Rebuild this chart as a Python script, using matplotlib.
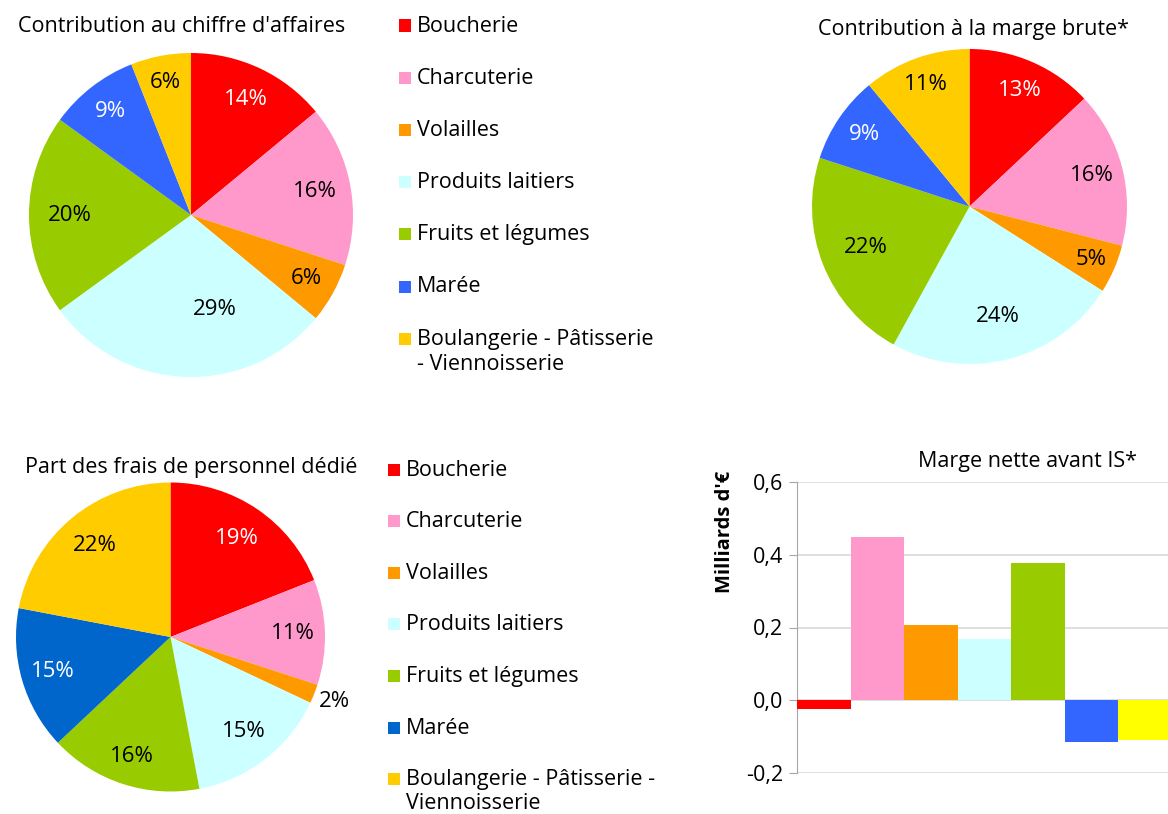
import matplotlib
matplotlib.use("Agg")
import matplotlib.pyplot as plt
from matplotlib.patches import Rectangle
import numpy as np

plt.rcParams['font.family'] = ['Open Sans', 'DejaVu Sans']

# data
rayons = ['Boucherie', 'Charcuterie', 'Volailles', 'Produits laitiers',
          'Fruits et légumes', 'Marée', 'Boulangerie - Pâtisserie - Viennoisserie']
ca = [14, 16, 6, 29, 20, 9, 6]
marge_brute = [13, 16, 5, 24, 22, 9, 11]
frais_perso = [19, 11, 2, 15, 16, 15, 22]
marge_nette = [-0.024, 0.448, 0.206, 0.168, 0.377, -0.115, -0.109]
yticks = [-0.2, 0.0, 0.2, 0.4, 0.6]
ytick_labels = ['-0,2', '0,0', '0,2', '0,4', '0,6']

colors = ['#FF0000', '#FF99CC', '#FF9900', '#CCFFFF', '#99CC00', '#3366FF', '#FFCC00']
colors_frais = ['#FF0000', '#FF99CC', '#FF9900', '#CCFFFF', '#99CC00', '#0066CC', '#FFCC00']
colors_bar = ['#FF0000', '#FF99CC', '#FF9900', '#CCFFFF', '#99CC00', '#3366FF', '#FFFF00']

W, H = 1168, 814
fig = plt.figure(figsize=(W / 100, H / 100), dpi=100)
FS = 15.5


def px_axes(x0, y0, x1, y1):
    # pixel box (top-left origin) -> figure axes
    return fig.add_axes([x0 / W, 1 - y1 / H, (x1 - x0) / W, (y1 - y0) / H])


def draw_pie(ax, vals, cols, dist, rot=None):
    wedges, texts, autotexts = ax.pie(vals, colors=cols, startangle=90, counterclock=False,
                                      autopct='%d%%', textprops={'fontsize': 16})
    for i, t in enumerate(autotexts):
        w = wedges[i]
        ang = np.deg2rad((w.theta1 + w.theta2) / 2 + (rot[i] if rot else 0))
        t.set_position((dist[i] * np.cos(ang), dist[i] * np.sin(ang)))
        if cols[i] in ('#FF0000', '#3366FF', '#0066CC'):
            t.set_color('white')
    ax.set_xlim(-1, 1)
    ax.set_ylim(-1, 1)
    return wedges


def draw_legend(labels, cols, x_sq, y_base, pitch=52.2, gap=25):
    # squares + labels, square aligned to the first text line
    for i, (lab, c) in enumerate(zip(labels, cols)):
        yb = y_base + i * pitch
        fig.patches.append(Rectangle((x_sq / W, 1 - yb / H), 12 / W, 12 / H,
                                     facecolor=c, transform=fig.transFigure))
        for k, line in enumerate(lab.split('\n')):
            fig.text((x_sq + 18) / W, 1 - (yb + k * gap) / H, line, ha='left',
                     va='baseline', fontsize=FS)


# top-left pie
ax1 = px_axes(29, 53, 353, 377)
draw_pie(ax1, ca, colors, [0.79, 0.78, 0.81, 0.6, 0.75, 0.81, 0.83],
         rot=[0, 0, 0, 16, 0, 0, 0])
fig.text(182 / W, 1 - 27 / H, "Contribution au chiffre d'affaires", ha='center', va='center', fontsize=FS)

# top-right pie
ax2 = px_axes(812, 49, 1127, 364)
draw_pie(ax2, marge_brute, colors, [0.8, 0.8, 0.84, 0.72, 0.71, 0.81, 0.82])
fig.text(973 / W, 1 - 29 / H, "Contribution à la marge brute*", ha='center', va='center', fontsize=FS)

# bottom-left pie
ax3 = px_axes(16, 482, 325, 792)
draw_pie(ax3, frais_perso, colors_frais, [0.77, 0.79, 1.14, 0.77, 0.81, 0.79, 0.77])
fig.text(191 / W, 1 - 467 / H, "Part des frais de personnel dédié", ha='center', va='center', fontsize=FS)

# legends
labels_top = rayons[:6] + ['Boulangerie - Pâtisserie\n- Viennoisserie']
labels_bot = rayons[:6] + ['Boulangerie - Pâtisserie -\nViennoisserie']
draw_legend(labels_top, colors, 399, 31.5)
draw_legend(labels_bot, colors_frais, 388, 475.5, pitch=51.6, gap=23.5)

# bar chart
ax4 = px_axes(797, 482, 1168, 773)
ax4.bar(range(len(marge_nette)), marge_nette, width=1.0, color=colors_bar, zorder=3)
ax4.set_xlim(-0.5, 6.43)
ax4.set_ylim(-0.2, 0.6)
ax4.set_yticks(yticks)
ax4.set_yticklabels(ytick_labels, fontsize=FS)
ax4.set_xticks([])
ax4.grid(axis='y', color='#D9D9D9', linewidth=1.2, zorder=0)
for s in ['top', 'right', 'bottom']:
    ax4.spines[s].set_visible(False)
ax4.spines['left'].set_color('#A6A6A6')
ax4.tick_params(axis='y', color='#A6A6A6', length=6, pad=4)
fig.text(725 / W, 1 - 532 / H, "Milliards d'€", rotation=90, ha='center', va='center',
         fontsize=FS - 1, fontweight='bold')
fig.text(1028 / W, 1 - 461 / H, "Marge nette avant IS*", ha='center', va='center', fontsize=FS)

fig.savefig('out.png', dpi=100)
